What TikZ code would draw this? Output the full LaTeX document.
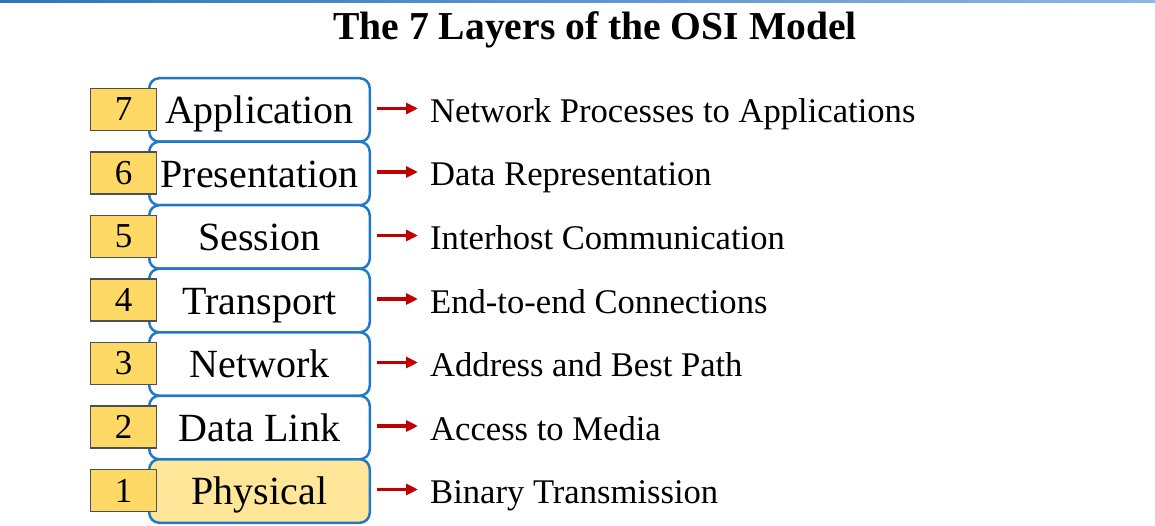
\documentclass[tikz,border=0pt]{standalone}
\usepackage{fontspec}
\setmainfont{Liberation Serif}
\usetikzlibrary{arrows.meta}
\definecolor{layerblue}{HTML}{2079C7}
\definecolor{numyellow}{HTML}{FFD966}
\definecolor{numgray}{HTML}{505050}
\definecolor{physfill}{HTML}{FFE699}
\definecolor{arrred}{HTML}{C00000}
\definecolor{topdark}{HTML}{2E75B6}
\definecolor{toplight}{HTML}{8DB6DF}
\begin{document}
\begin{tikzpicture}[x=1pt,y=-1pt,
  layer/.style={draw=layerblue, line width=2.5pt, rounded corners=10pt,
    minimum width=220.5pt, minimum height=63.5pt, inner sep=0pt, fill=white,
    text height=27.5pt, text depth=0pt, font=\fontsize{40}{44}\selectfont},
  num/.style={draw=numgray, fill=numyellow, line width=1.2pt,
    minimum width=65.8pt, minimum height=42pt, inner sep=0pt,
    font=\fontsize{35}{40}\selectfont},
  desc/.style={anchor=base west, inner sep=0pt, text height=28pt, text depth=0pt,
    font=\fontsize{34.6}{40}\selectfont},
  arr/.style={draw=arrred, line width=3.2pt, -{Triangle[length=12pt,width=11pt]},
    shorten <=6pt, shorten >=12pt},
  title/.style={anchor=base, inner sep=0pt, font=\fontsize{39.6}{46}\selectfont\bfseries}]
\useasboundingbox (0,0) rectangle (1155,526);
\shade[left color=topdark, right color=toplight] (0,0) rectangle (1155,3);
\node[title] (title) at (595,40) {The 7 Layers of the OSI Model};
\foreach \i/\lname/\dname in {7/Application/Network Processes to Applications,
  6/Presentation/Data Representation,
  5/Session/Interhost Communication,
  4/Transport/End-to-end Connections,
  3/Network/Address and Best Path,
  2/Data Link/Access to Media,
  1/Physical/Binary Transmission}{
  \pgfmathsetmacro{\c}{110+(7-\i)*63.5}
  \ifnum\i=1
    \node[layer, fill=physfill] (L\i) at (259.5,\c) {\lname};
  \else
    \node[layer] (L\i) at (259.5,\c) {\lname};
  \fi
  \node[num] (N\i) at (123.5,\c-0.5) {\i};
  \node[desc] (D\i) at (430,\c+12.5) {\dname};
  \draw[arr] ([yshift=1.5pt]L\i.east) -- (D\i.west);
}
\end{tikzpicture}
\end{document}
